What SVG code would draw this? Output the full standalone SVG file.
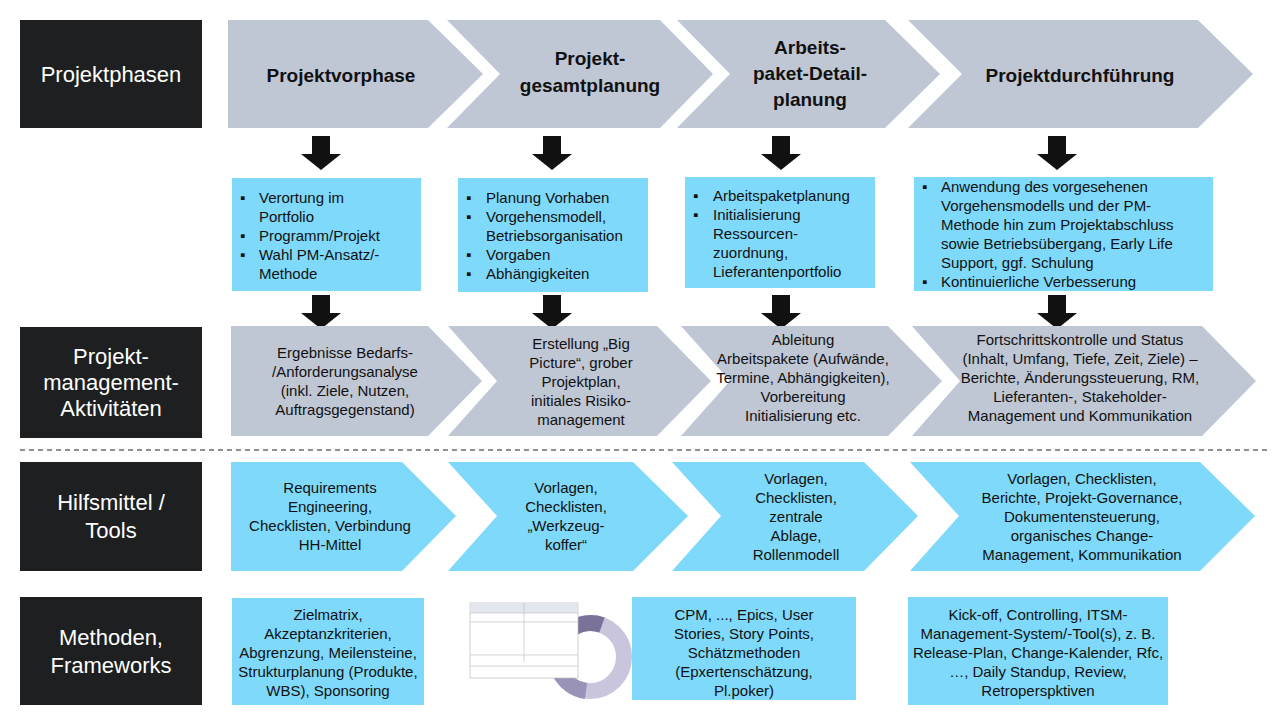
<svg xmlns="http://www.w3.org/2000/svg" width="1280" height="720" viewBox="0 0 1280 720">
<style>
.lab{fill:#1d1f20}
.labt{font-family:"Liberation Sans",Arial,sans-serif;font-size:22px;fill:#fff;text-anchor:middle}
.g{fill:#bfc6d4}
.c{fill:#7ed9fa}
.h{font-family:"Liberation Sans",Arial,sans-serif;font-size:19px;font-weight:bold;fill:#111;text-anchor:middle}
.t{font-family:"Liberation Sans",Arial,sans-serif;font-size:15px;fill:#111;text-anchor:middle}
.b{font-family:"Liberation Sans",Arial,sans-serif;font-size:15px;fill:#111}
.arr{fill:#111}
</style>
<defs>
<path id="da" d="M-9,0 H9 V18 H20 L0,34 L-20,18 H-9 Z"/>
</defs>
<rect width="1280" height="720" fill="#fff"/>
<g id="labels">
<rect class="lab" x="20" y="20" width="182" height="108"/><text class="labt" x="111" y="82">Projektphasen</text>
<rect class="lab" x="20" y="327" width="182" height="111"/><text class="labt" x="111" y="364">Projekt-</text><text class="labt" x="111" y="390">management-</text><text class="labt" x="111" y="416">Aktivitäten</text>
<rect class="lab" x="20" y="462" width="182" height="109"/><text class="labt" x="111" y="510">Hilfsmittel /</text><text class="labt" x="111" y="538">Tools</text>
<rect class="lab" x="20" y="597" width="182" height="108"/><text class="labt" x="111" y="645">Methoden,</text><text class="labt" x="111" y="673">Frameworks</text>
</g>
<g id="phases">
<polygon class="g" points="228,20 428,20 483,74 428,128 228,128"/>
<polygon class="g" points="447,20 660,20 713,74 660,128 447,128 500,74"/>
<polygon class="g" points="677,20 885,20 940,74 885,128 677,128 730,74"/>
<polygon class="g" points="908,20 1198,20 1253,74 1198,128 908,128 962,74"/>
<text class="h" x="341" y="82">Projektvorphase</text>
<text class="h" x="590" y="65">Projekt-</text><text class="h" x="590" y="92">gesamtplanung</text>
<text class="h" x="810" y="54">Arbeits-</text><text class="h" x="810" y="80">paket-Detail-</text><text class="h" x="810" y="106">planung</text>
<text class="h" x="1080" y="82">Projektdurchführung</text>
</g>
<g id="connectors">
<use href="#da" x="321" y="136" class="arr"/><use href="#da" x="552" y="136" class="arr"/><use href="#da" x="781" y="136" class="arr"/><use href="#da" x="1057" y="136" class="arr"/>
<use href="#da" x="321" y="295" class="arr"/><use href="#da" x="552" y="295" class="arr"/><use href="#da" x="781" y="295" class="arr"/><use href="#da" x="1057" y="295" class="arr"/>
</g>
<g id="details">
<rect class="c" x="232" y="178" width="189" height="113"/>
<text class="b"><tspan x="240" y="203">▪</tspan><tspan x="259" y="203">Verortung im</tspan><tspan x="259" y="222">Portfolio</tspan><tspan x="240" y="241">▪</tspan><tspan x="259" y="241">Programm/Projekt</tspan><tspan x="240" y="260">▪</tspan><tspan x="259" y="260">Wahl PM-Ansatz/-</tspan><tspan x="259" y="279">Methode</tspan></text>
<rect class="c" x="458" y="178" width="190" height="114"/>
<text class="b"><tspan x="466" y="203">▪</tspan><tspan x="486" y="203">Planung Vorhaben</tspan><tspan x="466" y="222">▪</tspan><tspan x="486" y="222">Vorgehensmodell,</tspan><tspan x="486" y="241">Betriebsorganisation</tspan><tspan x="466" y="260">▪</tspan><tspan x="486" y="260">Vorgaben</tspan><tspan x="466" y="279">▪</tspan><tspan x="486" y="279">Abhängigkeiten</tspan></text>
<rect class="c" x="685" y="177" width="190" height="111"/>
<text class="b"><tspan x="693" y="201">▪</tspan><tspan x="713" y="201">Arbeitspaketplanung</tspan><tspan x="693" y="220">▪</tspan><tspan x="713" y="220">Initialisierung</tspan><tspan x="713" y="239">Ressourcen-</tspan><tspan x="713" y="258">zuordnung,</tspan><tspan x="713" y="277">Lieferantenportfolio</tspan></text>
<rect class="c" x="914" y="177" width="299" height="114"/>
<text class="b"><tspan x="922" y="192">▪</tspan><tspan x="941" y="192">Anwendung des vorgesehenen</tspan><tspan x="941" y="211">Vorgehensmodells und der PM-</tspan><tspan x="941" y="230">Methode hin zum Projektabschluss</tspan><tspan x="941" y="249">sowie Betriebsübergang, Early Life</tspan><tspan x="941" y="268">Support, ggf. Schulung</tspan><tspan x="922" y="287">▪</tspan><tspan x="941" y="287">Kontinuierliche Verbesserung</tspan></text>
</g>
<g id="activities">
<polygon class="g" points="231,326 428,326 482,381 428,436 231,436"/>
<polygon class="g" points="448,326 657,326 711,381 657,436 448,436 497,381"/>
<polygon class="g" points="681,326 888,326 942,381 888,436 681,436 730,381"/>
<polygon class="g" points="912,326 1202,326 1256,381 1202,436 912,436 960,381"/>
<text class="t"><tspan x="345" y="358">Ergebnisse Bedarfs-</tspan><tspan x="345" y="377">/Anforderungsanalyse</tspan><tspan x="345" y="396">(inkl. Ziele, Nutzen,</tspan><tspan x="345" y="415">Auftragsgegenstand)</tspan></text>
<text class="t"><tspan x="581" y="349">Erstellung „Big</tspan><tspan x="581" y="368">Picture“, grober</tspan><tspan x="581" y="387">Projektplan,</tspan><tspan x="581" y="406">initiales Risiko-</tspan><tspan x="581" y="425">management</tspan></text>
<text class="t"><tspan x="803" y="345">Ableitung</tspan><tspan x="803" y="364">Arbeitspakete (Aufwände,</tspan><tspan x="803" y="383">Termine, Abhängigkeiten),</tspan><tspan x="803" y="402">Vorbereitung</tspan><tspan x="803" y="421">Initialisierung etc.</tspan></text>
<text class="t"><tspan x="1080" y="345">Fortschrittskontrolle und Status</tspan><tspan x="1080" y="364">(Inhalt, Umfang, Tiefe, Zeit, Ziele) –</tspan><tspan x="1080" y="383">Berichte, Änderungssteuerung, RM,</tspan><tspan x="1080" y="402">Lieferanten-, Stakeholder-</tspan><tspan x="1080" y="421">Management und Kommunikation</tspan></text>
</g>
<line x1="20" y1="450" x2="1268" y2="450" stroke="#222" stroke-width="1.2" stroke-dasharray="5,4"/>
<g id="tools">
<polygon class="c" points="231,462 402,462 456,516 402,571 231,571"/>
<polygon class="c" points="448,462 633,462 688,516 633,571 448,571 497,516"/>
<polygon class="c" points="672,462 864,462 918,516 864,571 672,571 721,516"/>
<polygon class="c" points="910,462 1200,462 1255,516 1200,571 910,571 959,516"/>
<text class="t"><tspan x="330" y="493">Requirements</tspan><tspan x="330" y="512">Engineering,</tspan><tspan x="330" y="531">Checklisten, Verbindung</tspan><tspan x="330" y="550">HH-Mittel</tspan></text>
<text class="t"><tspan x="566" y="493">Vorlagen,</tspan><tspan x="566" y="512">Checklisten,</tspan><tspan x="566" y="531">„Werkzeug-</tspan><tspan x="566" y="550">koffer“</tspan></text>
<text class="t"><tspan x="796" y="484">Vorlagen,</tspan><tspan x="796" y="503">Checklisten,</tspan><tspan x="796" y="522">zentrale</tspan><tspan x="796" y="541">Ablage,</tspan><tspan x="796" y="560">Rollenmodell</tspan></text>
<text class="t"><tspan x="1082" y="484">Vorlagen, Checklisten,</tspan><tspan x="1082" y="503">Berichte, Projekt-Governance,</tspan><tspan x="1082" y="522">Dokumentensteuerung,</tspan><tspan x="1082" y="541">organisches Change-</tspan><tspan x="1082" y="560">Management, Kommunikation</tspan></text>
</g>
<g id="methods">
<rect class="c" x="232" y="598" width="192" height="107"/>
<text class="t"><tspan x="328" y="620">Zielmatrix,</tspan><tspan x="328" y="639">Akzeptanzkriterien,</tspan><tspan x="328" y="658">Abgrenzung, Meilensteine,</tspan><tspan x="328" y="677">Strukturplanung (Produkte,</tspan><tspan x="328" y="696">WBS), Sponsoring</tspan></text>
<rect class="c" x="632" y="597" width="224" height="103"/>
<text class="t"><tspan x="744" y="620">CPM, ..., Epics, User</tspan><tspan x="744" y="639">Stories, Story Points,</tspan><tspan x="744" y="658">Schätzmethoden</tspan><tspan x="744" y="677">(Epxertenschätzung,</tspan><tspan x="744" y="696">Pl.poker)</tspan></text>
<rect class="c" x="908" y="597" width="260" height="108"/>
<text class="t"><tspan x="1038" y="620">Kick-off, Controlling, ITSM-</tspan><tspan x="1038" y="639">Management-System/-Tool(s), z. B.</tspan><tspan x="1038" y="658">Release-Plan, Change-Kalender, Rfc,</tspan><tspan x="1038" y="677">…, Daily Standup, Review,</tspan><tspan x="1038" y="696">Retroperspktiven</tspan></text>
</g>
<g id="picture">
<circle cx="590" cy="657" r="34" fill="none" stroke="#c9c5dc" stroke-width="16"/>
<path d="M564,636 A34,34 0 0 1 602,625" fill="none" stroke="#7b7299" stroke-width="16"/>
<path d="M560,672 A34,34 0 0 0 586,691" fill="none" stroke="#9a93b8" stroke-width="16"/>
<rect x="470" y="603" width="108" height="75" fill="#fff" stroke="#bbb" stroke-width="0.7"/>
<rect x="470" y="603" width="108" height="10" fill="#e4e6ee"/>
<line x1="524" y1="603" x2="524" y2="662" stroke="#bbb" stroke-width="0.6"/>
<line x1="470" y1="613" x2="578" y2="613" stroke="#bbb" stroke-width="0.6"/>
<line x1="470" y1="622" x2="578" y2="622" stroke="#bbb" stroke-width="0.6"/>
<line x1="470" y1="655" x2="578" y2="655" stroke="#bbb" stroke-width="0.6"/>
<line x1="470" y1="666" x2="578" y2="666" stroke="#bbb" stroke-width="0.6"/>
</g>
</svg>
